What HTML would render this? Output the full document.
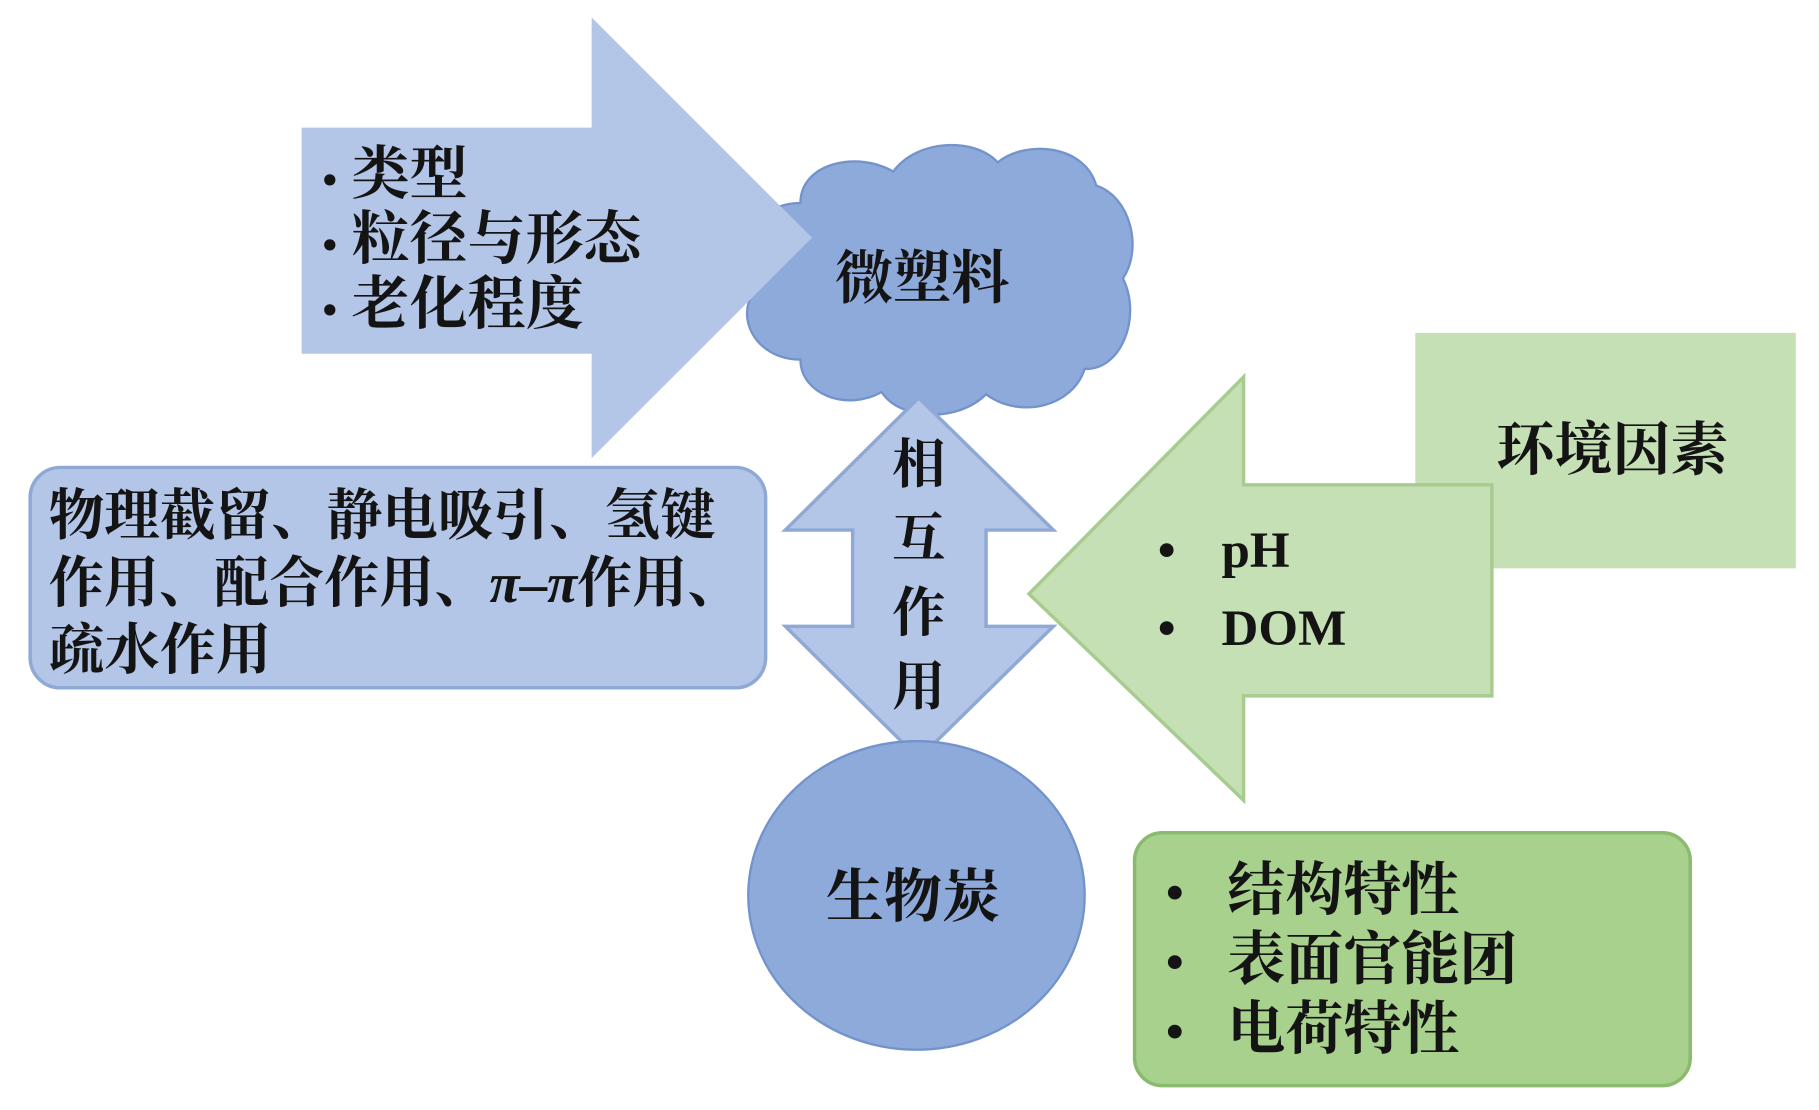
<!DOCTYPE html>
<html><head><meta charset="utf-8"><style>
html,body{margin:0;padding:0;background:#fff;}
svg{display:block}
text{font-family:"Liberation Serif","Noto Serif CJK SC",serif;font-weight:bold;fill:#141414;}
</style></head><body>
<svg width="1819" height="1110" viewBox="0 0 1568 957" preserveAspectRatio="none" xmlns="http://www.w3.org/2000/svg">
<!-- cloud -->
<g fill="#8eaadb" stroke="#7393cc" stroke-width="2">
<path d="M690,175 C690,140 740,130 770,148 C790,120 840,118 860,140 C885,120 935,125 945,160 C975,170 985,215 968,240 C985,275 965,320 935,318 C925,350 880,362 850,340 C825,365 775,362 760,338 C730,355 690,340 690,310 C650,310 630,270 655,245 C630,215 650,175 690,175 Z"/>
</g>
<!-- big right arrow -->
<polygon points="260,110 510,110 510,15 700,205 510,395 510,305 260,305" fill="#b4c6e7"/>
<text x="795" y="257" font-size="50" text-anchor="middle">微塑料</text>
<g font-size="50">
<text x="278" y="167"><tspan font-size="36">•</tspan> 类型</text>
<text x="278" y="223"><tspan font-size="36">•</tspan> 粒径与形态</text>
<text x="278" y="279"><tspan font-size="36">•</tspan> 老化程度</text>
</g>
<!-- left rounded box -->
<rect x="26" y="403" width="634" height="190" rx="26" fill="#b4c6e7" stroke="#8ea9d6" stroke-width="3"/>
<g font-size="48">
<text x="42" y="461" textLength="575" lengthAdjust="spacingAndGlyphs">物理截留、静电吸引、氢键</text>
<text x="42" y="519" textLength="598" lengthAdjust="spacingAndGlyphs">作用、配合作用、<tspan font-style="italic">π</tspan>–<tspan font-style="italic">π</tspan>作用、</text>
<text x="42" y="577">疏水作用</text>
</g>
<!-- double arrow -->
<polygon points="792,343 908,457 850,457 850,540 908,540 792,654 677,540 735,540 735,457 677,457" fill="#b4c6e7" stroke="#8ea9d6" stroke-width="3"/>
<g font-size="46" text-anchor="middle">
<text x="792" y="416">相</text>
<text x="792" y="480">互</text>
<text x="792" y="544">作</text>
<text x="792" y="608">用</text>
</g>
<!-- circle -->
<ellipse cx="790" cy="772" rx="145" ry="133" fill="#8eaadb" stroke="#7393cc" stroke-width="2"/>
<text x="787" y="790" font-size="50" text-anchor="middle">生物炭</text>
<!-- env rect -->
<rect x="1220" y="287" width="328" height="203" fill="#c5e0b4"/>
<text x="1390" y="405" font-size="50" text-anchor="middle">环境因素</text>
<!-- green left arrow -->
<polygon points="887,512 1072,325 1072,418 1286,418 1286,600 1072,600 1072,690" fill="#c5e0b4" stroke="#a8cc90" stroke-width="3"/>
<g font-size="44">
<text x="998" y="489">•</text><text x="1053" y="489">pH</text>
<text x="998" y="556">•</text><text x="1053" y="556">DOM</text>
</g>
<!-- green box -->
<rect x="978" y="718" width="479" height="218" rx="24" fill="#a9d18e" stroke="#8aba6e" stroke-width="3"/>
<g font-size="50">
<text x="1005" y="784" font-size="44">•</text><text x="1058" y="784">结构特性</text>
<text x="1005" y="844" font-size="44">•</text><text x="1058" y="844">表面官能团</text>
<text x="1005" y="904" font-size="44">•</text><text x="1058" y="904">电荷特性</text>
</g>
</svg>
</body></html>
